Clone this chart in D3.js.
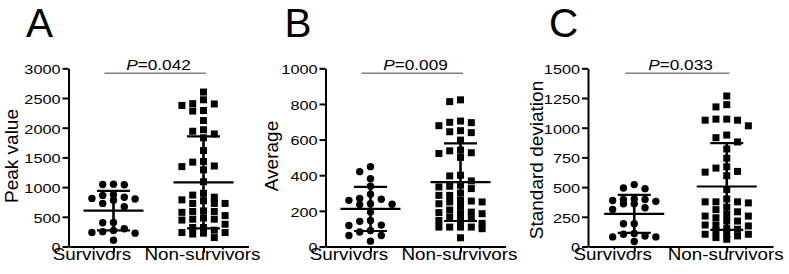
<!DOCTYPE html>
<html>
<head>
<meta charset="utf-8">
<script src="https://cdn.jsdelivr.net/npm/d3@7"></script>
<style>
  body { margin: 0; background: #fff; }
  svg { font-family: Arial, "Liberation Sans", sans-serif; }
  .axis path, .axis line { stroke: #000; stroke-width: 2; }
</style>
</head>
<body>
<svg id="chart" width="789" height="274"></svg>
<script>
var groups = ["Survivors", "Non-survivors"];

// A: peak value
var peakSurvivors = [1050, 1040, 1045, 870, 830, 800, 860, 810, 780, 726, 670, 405, 400, 300, 270, 250, 236, 225, 107];
var peakNonSurvivors = [2600, 2470, 2405, 2290, 2375, 2400, 2280, 2120, 1965, 1895, 1940, 1830, 1615, 1420, 1345, 1355,
  1430, 1290, 1090, 895, 830, 865, 785, 725, 770, 725, 725, 575, 600, 590, 590, 520, 460, 445, 460, 480, 375, 320, 320,
  225, 235, 275, 210, 235, 150];
var peakMean = [605, 1080];
var peakSd = [333, 775];
var peakTicks = [0, 500, 1000, 1500, 2000, 2500, 3000];

// B: average
var avgSurvivors = [448, 420, 380, 338, 270, 265, 293, 240, 237, 235, 259, 193, 141, 146, 118, 120, 90, 62, 62, 81, 30];
var avgNonSurvivors = [823, 813, 697, 678, 695, 704, 650, 639, 644, 597, 541, 526, 522, 537, 500, 400, 396, 344, 334,
  325, 368, 338, 300, 287, 287, 250, 240, 255, 250, 259, 222, 205, 193, 190, 184, 184, 156, 146, 146, 165, 130, 109,
  100, 109, 109, 109, 49];
var avgMean = [211, 361];
var avgSd = [124, 218];
var avgTicks = [0, 200, 400, 600, 800, 1000];

// C: standard deviation
var sdSurvivors = [493, 487, 521, 387, 359, 400, 395, 395, 359, 312, 326, 192, 192, 103, 81, 109, 81, 89, 42, 380];
var sdNonSurvivors = [1267, 1194, 1175, 1072, 1063, 1063, 1072, 1016, 916, 938, 880, 821, 743, 660, 626, 632, 671, 596,
  480, 376, 376, 376, 367, 331, 400, 292, 310, 214, 256, 256, 270, 242, 173, 181, 181, 214, 150, 103, 103, 145, 131,
  103, 89, 61, 75];
var sdMean = [275, 505];
var sdSd = [160, 365];
var sdTicks = [0, 250, 500, 750, 1000, 1250, 1500];

var panelLetters = ["A", "B", "C"];
var yTitles = ["Peak value", "Average", "Standard deviation"];
var pValues = ["0.042", "0.009", "0.033"];

(function(d3) {

  var svg = d3.select("#chart");
  var top = 68.3,
      bottom = 246.5;

  var panels = [
    { values: [peakSurvivors, peakNonSurvivors], mean: peakMean, sd: peakSd, ticks: peakTicks,
      left: 68.5, width: 180, titleX: 17.5, titleY: 156, letterX: 26 },
    { values: [avgSurvivors, avgNonSurvivors], mean: avgMean, sd: avgSd, ticks: avgTicks,
      left: 325.5, width: 180, titleX: 277.5, titleY: 156, letterX: 284.5 },
    { values: [sdSurvivors, sdNonSurvivors], mean: sdMean, sd: sdSd, ticks: sdTicks,
      left: 588, width: 185, titleX: 543, titleY: 160, letterX: 549 }
  ];

  panels.forEach(drawPanel);

  function stretch(sel, sx) {
    sel.each(function() {
      var w = this.getComputedTextLength();
      d3.select(this)
        .attr("textLength", w * sx)
        .attr("lengthAdjust", "spacingAndGlyphs");
    });
  }

  // simple column swarm, like the prism scatter
  function swarm(values, y, step, minGap) {
    var slots = [0, -1, 1, -2, 2];
    var placed = [];
    var pts = values.map(function(v) { return { v: v, y: y(v) }; })
      .sort(function(a, b) { return a.y - b.y; });
    pts.forEach(function(d) {
      var best = null, bestDist = -1;
      for (var k = 0; k < slots.length; k++) {
        var s = slots[k];
        var dist = d3.min(placed.filter(function(p) { return p.slot === s; }),
          function(p) { return Math.abs(p.y - d.y); });
        if (dist === undefined) dist = Infinity;
        if (dist >= minGap) { best = s; break; }
        if (dist > bestDist) { bestDist = dist; best = s; }
      }
      d.slot = best;
      d.dx = best * step;
      placed.push(d);
    });
    return pts;
  }

  function drawPanel(p, pi) {
    var g = svg.append("g")
      .attr("transform", "translate(" + p.left + ",0)");

    var y = d3.scaleLinear()
      .domain([0, p.ticks[p.ticks.length - 1]])
      .range([bottom, top]);

    var x = d3.scalePoint()
      .domain(groups)
      .range([0, p.width])
      .padding(0.5);

    // points
    p.values.forEach(function(vals, gi) {
      var pts = swarm(vals, y, 10.8, 7);
      var cx = x(groups[gi]);
      if (gi === 0) {
        g.selectAll(".dot" + gi)
          .data(pts)
          .enter().append("circle")
            .attr("cx", function(d) { return cx + d.dx; })
            .attr("cy", function(d) { return d.y; })
            .attr("r", 3.7)
            .attr("fill", "#000");
      } else {
        g.selectAll(".sq" + gi)
          .data(pts)
          .enter().append("rect")
            .attr("x", function(d) { return cx + d.dx - 3.5; })
            .attr("y", function(d) { return d.y - 3.5; })
            .attr("width", 7)
            .attr("height", 7)
            .attr("fill", "#000");
      }
    });

    // mean +/- SD
    var bars = g.selectAll(".bar")
      .data(groups)
      .enter().append("g")
        .attr("class", "bar")
        .attr("stroke", "#000");

    bars.append("line")
      .attr("x1", function(d) { return x(d); })
      .attr("x2", function(d) { return x(d); })
      .attr("y1", function(d, i) { return y(p.mean[i] - p.sd[i]); })
      .attr("y2", function(d, i) { return y(p.mean[i] + p.sd[i]); })
      .attr("stroke-width", 2.6);

    bars.selectAll(".cap")
      .data(function(d, i) { return [[d, p.mean[i] - p.sd[i]], [d, p.mean[i] + p.sd[i]]]; })
      .enter().append("line")
        .attr("x1", function(d) { return x(d[0]) - 16.5; })
        .attr("x2", function(d) { return x(d[0]) + 16.5; })
        .attr("y1", function(d) { return y(d[1]); })
        .attr("y2", function(d) { return y(d[1]); })
        .attr("stroke-width", 2.2);

    bars.append("line")
      .attr("x1", function(d) { return x(d) - 30; })
      .attr("x2", function(d) { return x(d) + 30; })
      .attr("y1", function(d, i) { return y(p.mean[i]); })
      .attr("y2", function(d, i) { return y(p.mean[i]); })
      .attr("stroke-width", 2.2);

    // axes
    var yAxis = g.append("g")
      .attr("class", "axis")
      .call(d3.axisLeft(y)
        .tickValues(p.ticks)
        .tickFormat(d3.format("d"))
        .tickSize(6)
        .tickSizeOuter(0)
        .tickPadding(2));
    yAxis.selectAll("text")
      .attr("dy", "0.41em")
      .attr("fill", "#000")
      .style("font-family", "Arial, 'Liberation Sans', sans-serif")
      .style("font-size", "13px");
    stretch(yAxis.selectAll("text"), 1.25);

    g.append("g")
      .attr("class", "axis")
      .attr("transform", "translate(0," + bottom + ")")
      .call(d3.axisBottom(x).tickSize(6).tickSizeOuter(0).tickFormat(""));

    var labelShift = [-21.5, -1];
    var cats = g.selectAll(".cat")
      .data(groups)
      .enter().append("text")
        .attr("class", "cat")
        .attr("x", function(d, i) { return x(d) + labelShift[i]; })
        .attr("y", bottom + 13.5)
        .attr("text-anchor", "middle")
        .style("font-size", "16.5px")
        .text(function(d) { return d; });
    stretch(cats, 1.14);

    // y title
    g.append("text")
      .attr("transform", "translate(" + (p.titleX - p.left) + "," + p.titleY + ") rotate(-90)")
      .attr("text-anchor", "middle")
      .style("font-size", "19px")
      .text(yTitles[pi]);

    // panel letter
    g.append("text")
      .attr("x", p.letterX - p.left)
      .attr("y", 36.5)
      .style("font-size", "40.5px")
      .text(panelLetters[pi]);

    // significance bracket
    var x0 = x(groups[0]) - 9,
        x1 = x(groups[1]) + 2.5;
    g.append("line")
      .attr("x1", x0)
      .attr("x2", x1)
      .attr("y1", 73.3)
      .attr("y2", 73.3)
      .attr("stroke", "#808080")
      .attr("stroke-width", 1.6);

    var pText = g.append("g")
      .attr("transform", "translate(" + ((x(groups[0]) + x(groups[1])) / 2) + ",70) scale(1.15,1)")
      .append("text")
        .attr("text-anchor", "middle")
        .style("font-size", "15px");
    pText.append("tspan").style("font-style", "italic").text("P");
    pText.append("tspan").text("=" + pValues[pi]);
  }

})(window.d3);
</script>
</body>
</html>
